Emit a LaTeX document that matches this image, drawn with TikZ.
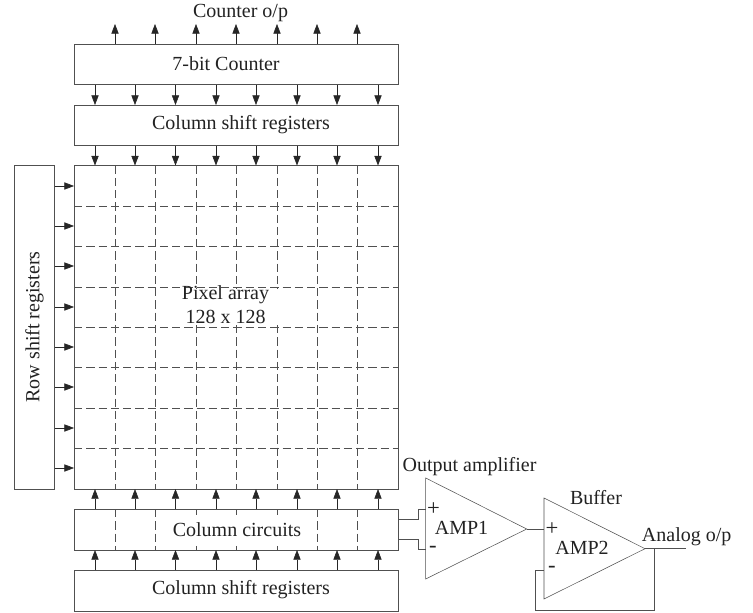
\documentclass[tikz,border=0pt]{standalone}
\usepackage{fontspec}
\setmainfont{Liberation Serif}
\usetikzlibrary{arrows.meta,calc}
\definecolor{ln}{HTML}{505050}
\definecolor{tx}{HTML}{222222}
\tikzset{
 x=0.75pt,y=-0.75pt,
 line width=0.9pt,
 every path/.style={draw=none},
 blk/.style={draw=ln,fill=white,minimum width=323.5*0.75pt,minimum height=40.5*0.75pt,inner sep=0pt,anchor=north west,text=tx,font=\fontsize{15pt}{17pt}\selectfont},
 lab/.style={text=tx,inner sep=0pt,font=\fontsize{15pt}{17pt}\selectfont},
 sym/.style={text=tx,inner sep=0pt,font=\fontsize{17pt}{17pt}\selectfont},
 patch/.style={fill=white,inner sep=0pt},
 sig/.style={draw=ln},
 arr/.style={draw=black!85,-{Triangle[length=7.2pt,width=5.4pt]}},
 grid/.style={draw=ln,dash pattern=on 6.2pt off 3pt},
 amp/.style={draw=ln,line join=miter}
}
\begin{document}
\begin{tikzpicture}
\useasboundingbox (0,0) rectangle (753,613);
% boxes
\node[blk] (cnt) at (74,44) {};
\node[blk] (csrt) at (74,105) {};
\node[blk,minimum height=323*0.75pt] (arr) at (74,165.5) {};
\node[blk] (cc) at (74,509) {};
\node[blk] (csrb) at (74,570) {};
\node[blk,minimum width=40*0.75pt,minimum height=323*0.75pt] (rsr) at (14,165.5) {};
\node[lab] at (226,64) {7-bit Counter};
\node[lab] at (241,125) {Column shift registers};
\node[lab] at (241,590) {Column shift registers};
\node[lab,rotate=90] at (34.5,327) {Row shift registers};
% column and row guide coordinates
\foreach \i/\x in {1/95,2/135,3/175.5,4/216,5/256,6/297,7/337,8/378}{\coordinate (c\i) at (\x,0);}
\foreach \i/\x in {1/115,2/155,3/196,4/236,5/277,6/317,7/357}{\coordinate (g\i) at (\x,0);}
\foreach \i/\y in {1/186,2/226,3/266,4/307,5/347,6/387,7/428,8/468}{\coordinate (r\i) at (0,\y);}
\foreach \i/\y in {1/206,2/246,3/287,4/327,5/367,6/408,7/448}{\coordinate (h\i) at (0,\y);}
\coordinate (top) at (0,24);
% grid
\foreach \i in {1,...,7}{
 \draw[grid] (arr.north -| g\i) -- (arr.south -| g\i);
 \draw[grid] (cc.north -| g\i) -- (cc.south -| g\i);
}
% white patches behind the centre labels
\node[patch,minimum width=120*0.75pt,minimum height=36*0.75pt] (pa) at (220,307) {};
\node[patch,minimum width=140*0.75pt,minimum height=29*0.75pt] (pc) at (236,529) {};
\foreach \i in {1,...,7}{
 \draw[grid] (arr.west |- h\i) -- (arr.east |- h\i);
}
% arrows
\foreach \i in {1,...,7}{\draw[arr] (cnt.north -| g\i) -- (top -| g\i);}
\foreach \i in {1,...,8}{
 \draw[arr] (cnt.south -| c\i) -- (csrt.north -| c\i);
 \draw[arr] (csrt.south -| c\i) -- (arr.north -| c\i);
 \draw[arr] (cc.north -| c\i) -- (arr.south -| c\i);
 \draw[arr] (csrb.north -| c\i) -- (cc.south -| c\i);
 \draw[arr] (rsr.east |- r\i) -- (arr.west |- r\i);
}
% centre labels
\node[lab] at (225.5,295) {Pixel array};
\node[lab] at (225.5,316.5) {128 x 128};
\node[lab] at (237,530) {Column circuits};
\node[lab] at (240.5,13) {Counter o/p};
% amplifiers
\coordinate (a1t) at (425.7,478);
\coordinate (a1b) at (425.7,579);
\coordinate (a1o) at (526.7,529);
\coordinate (a1p) at (425.7,509.3);
\coordinate (a1m) at (425.7,549.3);
\coordinate (a2t) at (544,498);
\coordinate (a2b) at (544,599);
\coordinate (a2o) at (645,548.7);
\coordinate (a2m) at (544,570);
\coordinate (tap) at (654.3,548.7);
\coordinate (aout) at (686,548.7);
\draw[amp] (a1t) -- (a1o) -- (a1b) -- cycle;
\draw[amp] (a2t) -- (a2o) -- (a2b) -- cycle;
\draw[sig] (cc.east |- 0,519.3) -- (418.3,519.3) |- (a1p);
\draw[sig] (cc.east |- 0,539.3) -- (418.3,539.3) |- (a1m);
\draw[sig] (a1o) -- (a1o -| a2t);
\draw[sig] (a2o) -- (aout);
\draw[sig] (tap) -- (654.3,610) -- (535,610) |- (a2m);
\node[sym] at (433.5,509) {+};
\node[sym] at (433,549) {-};
\node[sym] at (552,529) {+};
\node[sym] at (552,569) {-};
\node[lab] at (461.5,528) {AMP1};
\node[lab] at (582,548) {AMP2};
\node[lab] at (469.5,467) {Output amplifier};
\node[lab] at (596,498) {Buffer};
\node[lab] at (686.7,537) {Analog o/p};
\end{tikzpicture}
\end{document}
